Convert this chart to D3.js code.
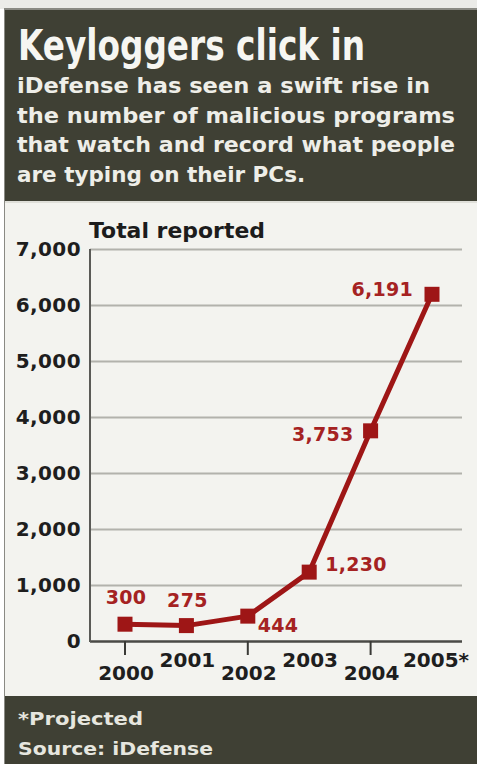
<!DOCTYPE html>
<html>
<head>
<meta charset="utf-8">
<script src="https://cdn.jsdelivr.net/npm/d3@7"></script>
<style>
  html, body { margin: 0; padding: 0; background: #ffffff; }
  svg { display: block; }
</style>
</head>
<body>
<script>
// ---- data ----
const years = ["2000", "2001", "2002", "2003", "2004", "2005"];
const yearLabels = ["2000", "2001", "2002", "2003", "2004", "2005*"];
const totals = [300, 275, 444, 1230, 3753, 6191];
const valueLabels = ["300", "275", "444", "1,230", "3,753", "6,191"];
const yTicks = [0, 1000, 2000, 3000, 4000, 5000, 6000, 7000];
const titleText = "Keyloggers click in";
const subtitleLines = [
  "iDefense has seen a swift rise in",
  "the number of malicious programs",
  "that watch and record what people",
  "are typing on their PCs."
];
const axisTitle = "Total reported";
const footnotes = ["*Projected", "Source: iDefense"];

// ---- layout / style ----
const W = 477, H = 764;
const darkBg = "#3f4034";
const plotBg = "#f3f3ef";
const red = "#9e1616";
const labelRed = "#a52222";
const bodyFont = "'DejaVu Sans', Verdana, sans-serif";

const svg = d3.select("body").append("svg").attr("width", W).attr("height", H);

// outer frame
svg.append("rect").attr("x", 0).attr("y", 0).attr("width", W).attr("height", H).attr("fill", "#ffffff");
svg.append("rect").attr("x", 0).attr("y", 0).attr("width", W).attr("height", 9).attr("fill", "#ebebe8");
svg.append("rect").attr("x", 4).attr("y", 8).attr("width", W - 4).attr("height", H - 8).attr("fill", "#8a8a84");
// header
svg.append("rect").attr("x", 5).attr("y", 10).attr("width", W - 5).attr("height", 191).attr("fill", darkBg);
// plot area bg
svg.append("rect").attr("x", 5).attr("y", 201).attr("width", W - 5).attr("height", 495).attr("fill", plotBg);
svg.append("line").attr("x1", 5).attr("x2", W).attr("y1", 202).attr("y2", 202).attr("stroke", "#d8d8d2").attr("stroke-width", 1.5);
// footer
svg.append("rect").attr("x", 5).attr("y", 696).attr("width", W - 5).attr("height", H - 696).attr("fill", darkBg);

// title
svg.append("text")
  .attr("x", 18).attr("y", 60)
  .attr("font-family", "'DejaVu Sans Condensed', 'Liberation Sans Narrow', sans-serif")
  .attr("font-weight", "bold").attr("font-size", 43)
  .attr("textLength", 347).attr("lengthAdjust", "spacingAndGlyphs")
  .attr("fill", "#f6f6f2")
  .text(titleText);

// subtitle
const subWidths = [413, 438, 438, null];
subtitleLines.forEach((t, i) => {
  const el = svg.append("text")
    .attr("x", 17).attr("y", 93 + i * 29.7)
    .attr("font-family", bodyFont).attr("font-weight", "bold").attr("font-size", 21.5)
    .attr("fill", "#eeeee8")
    .text(t);
  if (subWidths[i]) el.attr("textLength", subWidths[i]).attr("lengthAdjust", "spacingAndGlyphs");
});

// footer text
footnotes.forEach((t, i) => {
  const el = svg.append("text")
    .attr("x", 18).attr("y", 725 + i * 30)
    .attr("font-family", bodyFont).attr("font-weight", "bold").attr("font-size", 17.5)
    .attr("fill", "#e6e6df")
    .text(t);
  el.attr("textLength", i === 0 ? 125 : 195).attr("lengthAdjust", "spacingAndGlyphs");
});

// ---- scales ----
const x = d3.scalePoint().domain(years).range([125, 432]);
const y = d3.scaleLinear().domain([0, 7000]).range([641, 249]);
const plotLeft = 90, plotRight = 462;

// axis title
svg.append("text")
  .attr("x", 89).attr("y", 238)
  .attr("font-family", bodyFont).attr("font-weight", "bold").attr("font-size", 20.5)
  .attr("textLength", 176).attr("lengthAdjust", "spacingAndGlyphs")
  .attr("fill", "#1c1c1c")
  .text(axisTitle);

// y axis with gridlines
const yAxis = d3.axisLeft(y)
  .tickValues(yTicks)
  .tickFormat(d3.format(","))
  .tickSize(-(plotRight - plotLeft))
  .tickPadding(9);
const gy = svg.append("g").attr("transform", `translate(${plotLeft},0)`).call(yAxis);
gy.select(".domain").remove();
gy.selectAll(".tick line")
  .attr("stroke", d => d === 0 ? "#4a4a46" : "#b2b2ac")
  .attr("stroke-width", d => d === 0 ? 2.5 : 2);
gy.selectAll(".tick text")
  .attr("font-family", bodyFont).attr("font-weight", "bold").attr("font-size", 20)
  .attr("letter-spacing", 0.4)
  .attr("fill", "#1e1e1e");
// vertical axis line
svg.append("line")
  .attr("x1", plotLeft).attr("x2", plotLeft)
  .attr("y1", y(7000)).attr("y2", y(0) + 1)
  .attr("stroke", "#5a5a56").attr("stroke-width", 2);

// x axis: labels alternate height, ticks on even years
const gx = svg.append("g").attr("transform", `translate(0,${y(0)})`);
gx.selectAll("line.xt")
  .data(years.filter((d, i) => i % 2 === 0))
  .join("line").attr("class", "xt")
  .attr("x1", d => x(d)).attr("x2", d => x(d))
  .attr("y1", 0).attr("y2", 14)
  .attr("stroke", "#3a3a36").attr("stroke-width", 2);
gx.selectAll("text.xl")
  .data(years)
  .join("text").attr("class", "xl")
  .attr("x", d => x(d))
  .attr("dx", (d, i) => i === years.length - 1 ? 4 : 1)
  .attr("y", (d, i) => i % 2 === 0 ? 39 : 26)
  .attr("text-anchor", "middle")
  .attr("font-family", bodyFont).attr("font-weight", "bold").attr("font-size", 20)
  .attr("fill", "#1e1e1e")
  .text((d, i) => yearLabels[i]);

// ---- series ----
const pts = years.map((yr, i) => ({ year: yr, value: totals[i], label: valueLabels[i] }));
const line = d3.line().x(d => x(d.year)).y(d => y(d.value)).curve(d3.curveLinear);
svg.append("path").datum(pts)
  .attr("d", line)
  .attr("fill", "none").attr("stroke", red).attr("stroke-width", 5)
  .attr("stroke-linejoin", "round");

const mk = 15;
svg.selectAll("rect.mk").data(pts).join("rect").attr("class", "mk")
  .attr("x", d => x(d.year) - mk / 2).attr("y", d => y(d.value) - mk / 2)
  .attr("width", mk).attr("height", mk).attr("fill", red);

// value label placement (anchor, dx, dy relative to the point)
const placement = [
  ["middle", 1, -20],
  ["middle", 1, -19],
  ["start", 10, 16],
  ["start", 16, -1],
  ["end", -17, 10],
  ["end", -19, 2]
];
svg.selectAll("text.vl").data(pts).join("text").attr("class", "vl")
  .attr("x", d => x(d.year)).attr("y", d => y(d.value))
  .attr("dx", (d, i) => placement[i][1]).attr("dy", (d, i) => placement[i][2])
  .attr("text-anchor", (d, i) => placement[i][0])
  .attr("font-family", bodyFont).attr("font-weight", "bold").attr("font-size", 19)
  .attr("letter-spacing", 0.3)
  .attr("fill", labelRed)
  .text(d => d.label);
</script>
</body>
</html>
